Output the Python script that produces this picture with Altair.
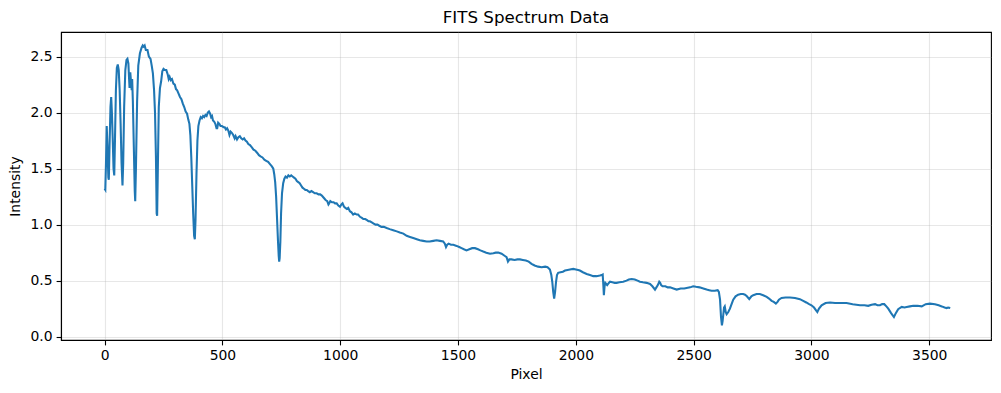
import altair as alt
import pandas as pd

pixel = [0,3,6,9,12,16,18,21,25,28,31,34,38,41,44,48,52,56,60,64,68,72,76,79,83,88,93,97,101,104,106,109,112,115,117,120,124,128,130,133,138,143,150,157,162,166,170,175,182,188,195,200,205,210,214,218,221,223,226,230,235,240,245,250,256,262,268,272,276,281,286,292,298,303,308,314,320,326,332,338,344,350,355,360,364,368,372,376,380,383,386,390,394,398,403,408,413,418,423,428,433,438,443,448,452,456,460,465,470,475,478,482,487,492,498,505,510,515,520,525,530,535,540,546,552,556,562,568,574,580,586,592,598,604,610,617,625,632,640,648,655,662,670,678,686,694,702,710,716,720,724,728,732,736,739,741,743,746,749,753,758,763,768,774,780,786,792,798,804,810,816,822,828,834,840,846,852,858,864,871,878,885,892,900,908,915,922,930,938,945,950,953,958,965,972,978,985,992,999,1005,1010,1016,1022,1028,1034,1041,1048,1055,1062,1070,1076,1084,1092,1098,1106,1114,1120,1126,1134,1142,1150,1158,1166,1175,1185,1197,1210,1225,1240,1253,1268,1282,1296,1310,1325,1338,1352,1367,1380,1395,1409,1423,1437,1444,1449,1454,1460,1470,1480,1494,1505,1515,1525,1536,1548,1560,1572,1585,1595,1607,1620,1636,1650,1660,1671,1685,1699,1706,1712,1718,1727,1740,1752,1763,1775,1788,1800,1812,1825,1840,1855,1870,1880,1890,1896,1900,1904,1908,1912,1916,1920,1925,1935,1945,1954,1965,1975,1989,2000,2010,2017,2030,2046,2060,2074,2088,2102,2110,2114,2117,2119,2122,2125,2129,2133,2140,2145,2155,2165,2173,2185,2201,2215,2225,2237,2250,2262,2272,2285,2300,2315,2325,2336,2342,2348,2354,2358,2362,2368,2380,2390,2400,2414,2428,2445,2460,2470,2485,2498,2510,2525,2541,2555,2566,2576,2590,2602,2607,2612,2616,2620,2623,2626,2629,2632,2636,2640,2647,2654,2661,2668,2678,2689,2700,2710,2718,2726,2736,2745,2753,2767,2781,2795,2810,2820,2831,2840,2849,2856,2862,2873,2890,2909,2930,2951,2965,2978,2990,3000,3011,3018,3025,3032,3043,3060,3079,3100,3125,3149,3175,3206,3225,3241,3255,3270,3280,3291,3300,3309,3318,3326,3338,3350,3358,3368,3383,3395,3404,3418,3432,3450,3468,3485,3503,3524,3540,3553,3565,3574,3580,3589]

intensity = [1.32,1.31,1.55,1.88,1.70,1.42,1.40,1.70,2.05,2.14,2.00,1.80,1.50,1.44,1.75,2.20,2.40,2.43,2.38,2.20,1.90,1.55,1.35,1.55,2.05,2.38,2.47,2.48,2.44,2.30,2.22,2.36,2.28,2.20,2.30,2.10,1.70,1.30,1.21,1.50,2.10,2.42,2.53,2.58,2.60,2.59,2.60,2.56,2.56,2.50,2.48,2.42,2.35,2.20,2.00,1.60,1.10,1.08,1.50,2.05,2.22,2.28,2.37,2.39,2.38,2.38,2.34,2.30,2.32,2.29,2.30,2.26,2.25,2.21,2.20,2.17,2.14,2.12,2.08,2.05,2.01,1.99,1.94,1.90,1.80,1.60,1.35,1.10,0.90,0.87,1.05,1.45,1.75,1.88,1.93,1.96,1.95,1.97,1.96,1.98,1.97,2.00,2.01,1.99,1.96,1.97,1.93,1.92,1.90,1.86,1.86,1.91,1.90,1.88,1.88,1.87,1.87,1.85,1.86,1.84,1.80,1.83,1.82,1.80,1.77,1.79,1.76,1.78,1.79,1.77,1.76,1.77,1.75,1.74,1.72,1.71,1.69,1.67,1.66,1.64,1.62,1.61,1.60,1.58,1.57,1.56,1.54,1.52,1.50,1.45,1.38,1.25,1.05,0.85,0.72,0.67,0.70,0.85,1.10,1.28,1.37,1.41,1.43,1.42,1.44,1.43,1.44,1.43,1.42,1.41,1.39,1.38,1.37,1.35,1.33,1.32,1.31,1.31,1.30,1.29,1.30,1.29,1.28,1.28,1.27,1.27,1.26,1.24,1.22,1.21,1.18,1.19,1.21,1.20,1.20,1.19,1.19,1.17,1.16,1.18,1.19,1.16,1.15,1.14,1.15,1.12,1.11,1.09,1.10,1.09,1.09,1.07,1.06,1.05,1.05,1.04,1.03,1.03,1.02,1.01,1.00,1.00,0.99,0.98,0.98,0.97,0.96,0.95,0.94,0.93,0.92,0.90,0.89,0.88,0.87,0.86,0.855,0.85,0.85,0.855,0.86,0.855,0.85,0.83,0.80,0.82,0.83,0.82,0.82,0.81,0.80,0.79,0.78,0.77,0.78,0.79,0.79,0.78,0.77,0.76,0.75,0.74,0.745,0.75,0.75,0.74,0.72,0.71,0.67,0.69,0.69,0.685,0.69,0.69,0.685,0.68,0.67,0.65,0.635,0.625,0.62,0.625,0.62,0.60,0.55,0.49,0.40,0.34,0.40,0.49,0.55,0.57,0.575,0.58,0.59,0.595,0.60,0.605,0.60,0.595,0.59,0.575,0.56,0.55,0.54,0.54,0.545,0.55,0.555,0.45,0.37,0.45,0.48,0.47,0.46,0.48,0.49,0.485,0.48,0.48,0.485,0.49,0.50,0.51,0.515,0.51,0.50,0.49,0.485,0.48,0.47,0.45,0.42,0.44,0.46,0.49,0.48,0.46,0.45,0.45,0.44,0.44,0.43,0.42,0.43,0.43,0.435,0.44,0.45,0.445,0.44,0.43,0.42,0.415,0.41,0.41,0.415,0.40,0.33,0.18,0.10,0.14,0.20,0.26,0.27,0.22,0.20,0.22,0.25,0.29,0.33,0.36,0.375,0.38,0.38,0.375,0.36,0.335,0.36,0.37,0.38,0.38,0.37,0.355,0.34,0.32,0.31,0.295,0.31,0.33,0.345,0.35,0.35,0.345,0.335,0.32,0.305,0.29,0.28,0.26,0.24,0.22,0.25,0.28,0.30,0.305,0.30,0.30,0.30,0.29,0.28,0.28,0.275,0.285,0.29,0.28,0.28,0.29,0.29,0.27,0.25,0.21,0.175,0.21,0.245,0.265,0.26,0.265,0.27,0.275,0.275,0.27,0.29,0.295,0.29,0.28,0.27,0.26,0.255,0.26,0.255]

x_ticks = [0, 500, 1000, 1500, 2000, 2500, 3000, 3500]
y_ticks = [0.0, 0.5, 1.0, 1.5, 2.0, 2.5]

df = pd.DataFrame({"Pixel": pixel, "Intensity": intensity})

FONT = "DejaVu Sans"

chart = alt.Chart(df).mark_line(color="#1f77b4", strokeWidth=2.08).encode(
    x=alt.X("Pixel:Q", title="Pixel",
            scale=alt.Scale(domain=[-185, 3762], nice=False, zero=False),
            axis=alt.Axis(values=x_ticks, format="d", labelPadding=4, titlePadding=5)),
    y=alt.Y("Intensity:Q", title="Intensity",
            scale=alt.Scale(domain=[-0.03, 2.72], nice=False, zero=False),
            axis=alt.Axis(values=y_ticks, format=".1f", labelPadding=4, titlePadding=8)),
).properties(
    width=930,
    height=308,
    padding={"left": 53, "top": 24, "right": 2, "bottom": 50},
    autosize=alt.AutoSizeParams(type="none"),
    title=alt.TitleParams("FITS Spectrum Data", font=FONT, fontSize=16.7,
                          fontWeight="normal", color="black", anchor="middle", offset=5),
).configure_view(
    stroke="black", strokeWidth=1.1
).configure_axis(
    labelFont=FONT, labelFontSize=13.9, labelColor="black",
    titleFont=FONT, titleFontSize=13.9, titleColor="black", titleFontWeight="normal",
    domainColor="black", domainWidth=1.1,
    tickColor="black", tickWidth=1.1, tickSize=4.9,
    gridColor="#b0b0b0", gridOpacity=0.3, gridWidth=1.1,
)

chart.save("out.html", embed_options={"renderer": "svg", "actions": False})
